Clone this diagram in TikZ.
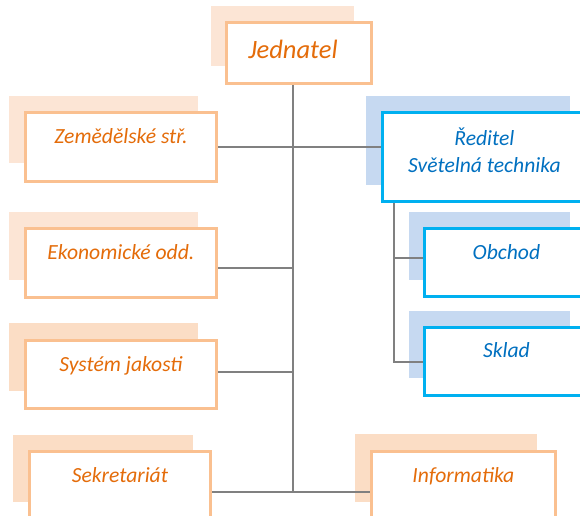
\documentclass[tikz,border=0pt]{standalone}
\usepackage{fontspec}
\setmainfont{Carlito}
\definecolor{orbd}{HTML}{FAC090}
\definecolor{orsh}{HTML}{FCE5D5}
\definecolor{orshb}{HTML}{FBDDC5}
\definecolor{ortx}{HTML}{E46C0A}
\definecolor{blbd}{HTML}{00B0F0}
\definecolor{blsh}{HTML}{C6D9F1}
\definecolor{bltx}{HTML}{0070C0}
\definecolor{conn}{HTML}{808080}
\begin{document}
\begin{tikzpicture}[x=1pt,y=-1pt,
  obox/.style={draw=orbd,line width=1.8pt,fill=white,inner sep=0pt,anchor=north west},
  bbox/.style={draw=blbd,line width=1.8pt,fill=white,inner sep=0pt,anchor=north west},
  osh/.style={fill=orsh},
  oshb/.style={fill=orshb},
  bsh/.style={fill=blsh},
  otxt/.style={text=ortx,font=\fontsize{21.6}{25}\selectfont\itshape,anchor=base,inner sep=0pt},
  btxt/.style={text=bltx,font=\fontsize{21.6}{25}\selectfont\itshape,anchor=base,inner sep=0pt},
  conline/.style={draw=conn,line width=1.7pt}]
\useasboundingbox (0,0) rectangle (580,515);
% shadows
\fill[osh] (211,6) rectangle (354,66);
\fill[osh] (9,96) rectangle (198,163);
\fill[osh] (9,212) rectangle (198,280);
\fill[oshb] (9,323) rectangle (198,391);
\fill[oshb] (13,435) rectangle (193,502);
\fill[oshb] (355,434) rectangle (537,502);
\fill[bsh] (366,96) rectangle (570,185);
\fill[bsh] (409,212) rectangle (570,280);
\fill[bsh] (409,311) rectangle (570,378);
% boxes
\node[obox,minimum width=144pt,minimum height=60pt] (jed) at (226,22) {};
\node[obox,minimum width=190pt,minimum height=68pt] (zem) at (25,112) {};
\node[obox,minimum width=190pt,minimum height=68pt] (eko) at (25,228) {};
\node[obox,minimum width=190pt,minimum height=67pt] (sys) at (25,340) {};
\node[obox,minimum width=180pt,minimum height=68pt] (sek) at (29,451) {};
\node[obox,minimum width=183pt,minimum height=68pt] (inf) at (371,451) {};
\node[bbox,minimum width=203pt,minimum height=88pt] (red) at (382,112) {};
\node[bbox,minimum width=163pt,minimum height=67pt] (obc) at (424,228) {};
\node[bbox,minimum width=163pt,minimum height=67pt] (skl) at (424,327) {};
% connectors
\coordinate (tb) at (293,492);
\draw[conline] (293,0 |- jed.south) -- (tb);
\draw[conline] (zem.east) -- (zem.east -| red.west);
\draw[conline] (eko.east |- 0,268) -- (293,268);
\draw[conline] (sys.east |- 0,372) -- (293,372);
\draw[conline] (sek.east |- tb) -- (tb) -- (inf.west |- tb);
\draw[conline] (394,0 |- red.south) -- (394,362) -- (skl.west |- 0,362);
\draw[conline] (394,258) -- (obc.west |- 0,258);
% redraw box borders over connector ends
\foreach \b in {jed,zem,eko,sys,sek,inf}{\draw[orbd,line width=1.8pt] (\b.north west) rectangle (\b.south east);}
\foreach \b in {red,obc,skl}{\draw[blbd,line width=1.8pt] (\b.north west) rectangle (\b.south east);}
% texts
\node[otxt,font=\fontsize{26.5}{30}\selectfont\itshape] (jedt) at ([xshift=-6pt,yshift=-36pt]jed.north) {Jednatel};
\node[otxt] (zemt) at ([yshift=-31pt]zem.north) {Zemědělské stř.};
\node[otxt] (ekot) at ([yshift=-31pt]eko.north) {Ekonomické odd.};
\node[otxt] (syst) at ([yshift=-31pt]sys.north) {Systém jakosti};
\node[otxt] (sekt) at ([yshift=-31pt]sek.north) {Sekretariát};
\node[otxt] (inft) at ([yshift=-31pt]inf.north) {Informatika};
\node[btxt] (redt1) at ([yshift=-33pt]red.north) {Ředitel};
\node[btxt] (redt2) at ([yshift=-60pt]red.north) {Světelná technika};
\node[btxt] (obct) at ([yshift=-31pt]obc.north) {Obchod};
\node[btxt] (sklt) at ([yshift=-30pt]skl.north) {Sklad};
\end{tikzpicture}
\end{document}
